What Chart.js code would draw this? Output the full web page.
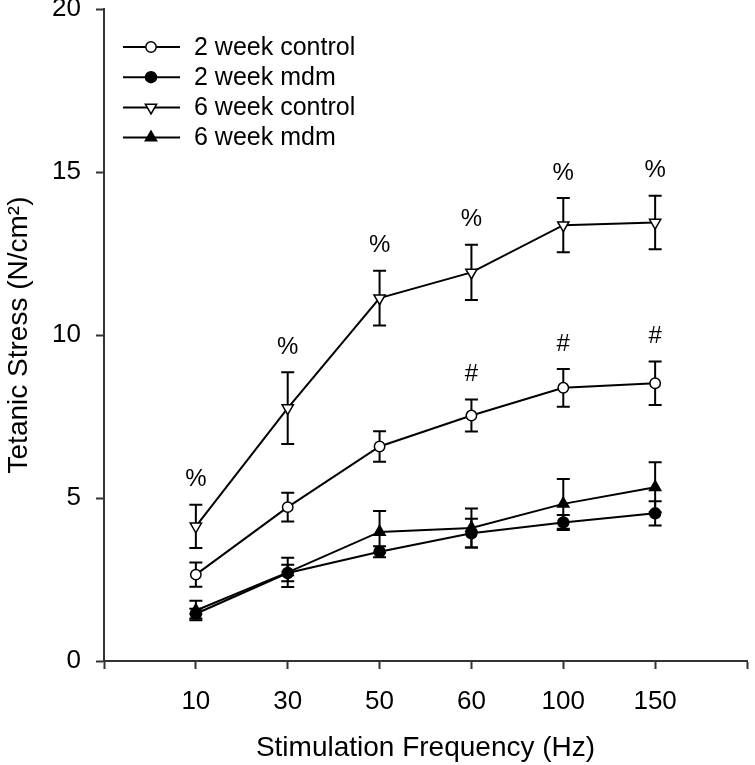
<!DOCTYPE html>
<html>
<head>
<meta charset="utf-8">
<style>
  html, body { margin: 0; padding: 0; background: #fff; }
</style>
<script src="https://cdn.jsdelivr.net/npm/chart.js@4.4.1/dist/chart.umd.min.js"></script>
</head>
<body>
<canvas id="stressChart" width="755" height="765"></canvas>
<script>
// stimulation frequencies (Hz), evenly spaced on the axis
const freqLabels = ['10', '30', '50', '60', '100', '150'];

// tetanic stress (N/cm2), mean and error
const ctrl2 = [2.65, 4.72, 6.58, 7.53, 8.38, 8.52];
const ctrl2Err = [0.37, 0.44, 0.47, 0.49, 0.58, 0.67];
const mdm2 = [1.45, 2.70, 3.35, 3.92, 4.25, 4.53];
const mdm2Err = [0.15, 0.25, 0.17, 0.44, 0.23, 0.37];
const ctrl6 = [4.13, 7.76, 11.13, 11.92, 13.37, 13.45];
const ctrl6Err = [0.66, 1.10, 0.84, 0.85, 0.83, 0.82];
const mdm6 = [1.55, 2.72, 3.96, 4.08, 4.82, 5.33];
const mdm6Err = [0.30, 0.45, 0.64, 0.60, 0.76, 0.77];

const yTicks = [0, 5, 10, 15, 20];

// significance marks above the error bars
const ctrl6Marks = ['%', '%', '%', '%', '%', '%'];
const ctrl2Marks = ['', '', '', '#', '#', '#'];

const FONT = "'Liberation Sans', Arial, Helvetica, sans-serif";
const AXIS = '#333';

const toPoints = (arr) => arr.map((v, i) => ({ x: i + 1, y: v }));

function series(label, values, errors, style, filled, rotation, radius) {
  return {
    label: label,
    data: toPoints(values),
    errors: errors,
    borderColor: '#000',
    borderWidth: 2,
    backgroundColor: filled ? '#000' : '#fff',
    pointStyle: style,
    pointRotation: rotation,
    pointRadius: radius,
    pointBorderWidth: 1.5,
    pointBorderColor: '#000',
    pointBackgroundColor: filled ? '#000' : '#fff',
    tension: 0,
    fill: false
  };
}

// error bars, drawn under the lines and markers
const errorBars = {
  id: 'errorBars',
  beforeDatasetsDraw(chart) {
    const { ctx, scales: { x, y } } = chart;
    ctx.save();
    ctx.strokeStyle = '#000';
    ctx.lineWidth = 2;
    chart.data.datasets.forEach(ds => {
      ds.errors.forEach((e, i) => {
        const px = x.getPixelForValue(ds.data[i].x);
        const top = y.getPixelForValue(ds.data[i].y + e);
        const bot = y.getPixelForValue(ds.data[i].y - e);
        ctx.beginPath();
        ctx.moveTo(px, top); ctx.lineTo(px, bot);
        ctx.moveTo(px - 6.5, top); ctx.lineTo(px + 6.5, top);
        ctx.moveTo(px - 6.5, bot); ctx.lineTo(px + 6.5, bot);
        ctx.stroke();
      });
    });
    ctx.restore();
  }
};

// % and # marks
const sigMarks = {
  id: 'sigMarks',
  afterDatasetsDraw(chart) {
    const { ctx, scales: { x, y } } = chart;
    ctx.save();
    ctx.fillStyle = '#000';
    ctx.font = '24px ' + FONT;
    ctx.textAlign = 'center';
    ctx.textBaseline = 'middle';
    const put = (marks, values, errs) => {
      marks.forEach((m, i) => {
        if (!m) return;
        ctx.fillText(m, x.getPixelForValue(i + 1), y.getPixelForValue(values[i] + errs[i]) - 25);
      });
    };
    put(ctrl6Marks, ctrl6, ctrl6Err);
    put(ctrl2Marks, ctrl2, ctrl2Err);
    ctx.restore();
  }
};

// legend: short line with the marker in the middle
const lineLegend = {
  id: 'lineLegend',
  afterDraw(chart) {
    const { ctx, chartArea } = chart;
    const x0 = chartArea.left + 19;
    ctx.save();
    ctx.font = '25px ' + FONT;
    ctx.textBaseline = 'middle';
    chart.data.datasets.forEach((ds, i) => {
      const yy = chartArea.top + 38 + i * 30.2;
      ctx.strokeStyle = '#000';
      ctx.lineWidth = 2;
      ctx.beginPath();
      ctx.moveTo(x0, yy); ctx.lineTo(x0 + 57, yy);
      ctx.stroke();
      ctx.fillStyle = ds.pointBackgroundColor;
      ctx.lineWidth = ds.pointBorderWidth;
      Chart.helpers.drawPoint(ctx, {
        pointStyle: ds.pointStyle,
        rotation: ds.pointRotation,
        radius: ds.pointRadius,
        borderWidth: ds.pointBorderWidth
      }, x0 + 28, yy);
      ctx.fillStyle = '#000';
      ctx.fillText(ds.label, x0 + 71, yy + 1);
    });
    ctx.restore();
  }
};

const ctx = document.getElementById('stressChart');

new Chart(ctx, {
  type: 'line',
  data: {
    datasets: [
      series('2 week control', ctrl2, ctrl2Err, 'circle', false, 0, 5.2),
      series('2 week mdm', mdm2, mdm2Err, 'circle', true, 0, 5.5),
      series('6 week control', ctrl6, ctrl6Err, 'triangle', false, 180, 6.5),
      series('6 week mdm', mdm6, mdm6Err, 'triangle', true, 0, 6.5)
    ]
  },
  options: {
    responsive: false,
    animation: false,
    devicePixelRatio: 1,
    layout: { padding: { top: 9, right: 1, left: 0, bottom: 0 } },
    plugins: {
      legend: { display: false },
      tooltip: { enabled: false }
    },
    scales: {
      x: {
        type: 'linear',
        min: 0,
        max: freqLabels.length + 1,
        afterBuildTicks: (s) => {
          s.ticks = [];
          for (let i = 0; i <= freqLabels.length + 1; i++) s.ticks.push({ value: i });
        },
        afterFit: (s) => {
          s.height = 104;
          s.paddingLeft = 0; s.paddingRight = 0;
        },
        ticks: {
          callback: (v) => freqLabels[v - 1] || '',
          font: { family: FONT, size: 26 },
          color: '#000',
          padding: 17,
          maxRotation: 0,
          autoSkip: false
        },
        grid: {
          drawOnChartArea: false,
          drawTicks: true,
          tickLength: 8,
          tickWidth: 2,
          tickColor: AXIS
        },
        border: { display: true, color: AXIS, width: 2 },
        title: {
          display: true,
          text: 'Stimulation Frequency (Hz)',
          font: { family: FONT, size: 28 },
          color: '#000',
          padding: { top: 0, bottom: 0 }
        }
      },
      y: {
        type: 'linear',
        min: 0,
        max: 20,
        afterBuildTicks: (s) => {
          s.ticks = yTicks.map(v => ({ value: v }));
        },
        afterFit: (s) => {
          s.width = 104;
          s.paddingTop = 0; s.paddingBottom = 0;
        },
        ticks: {
          font: { family: FONT, size: 26 },
          color: '#000',
          padding: 15
        },
        grid: {
          drawOnChartArea: false,
          drawTicks: true,
          tickLength: 8,
          tickWidth: 2,
          tickColor: AXIS
        },
        border: { display: true, color: AXIS, width: 2 },
        title: {
          display: true,
          text: 'Tetanic Stress (N/cm\u00B2)',
          font: { family: FONT, size: 28 },
          color: '#000',
          padding: { top: 2, bottom: 0 }
        }
      }
    }
  },
  plugins: [errorBars, sigMarks, lineLegend]
});
</script>
</body>
</html>
